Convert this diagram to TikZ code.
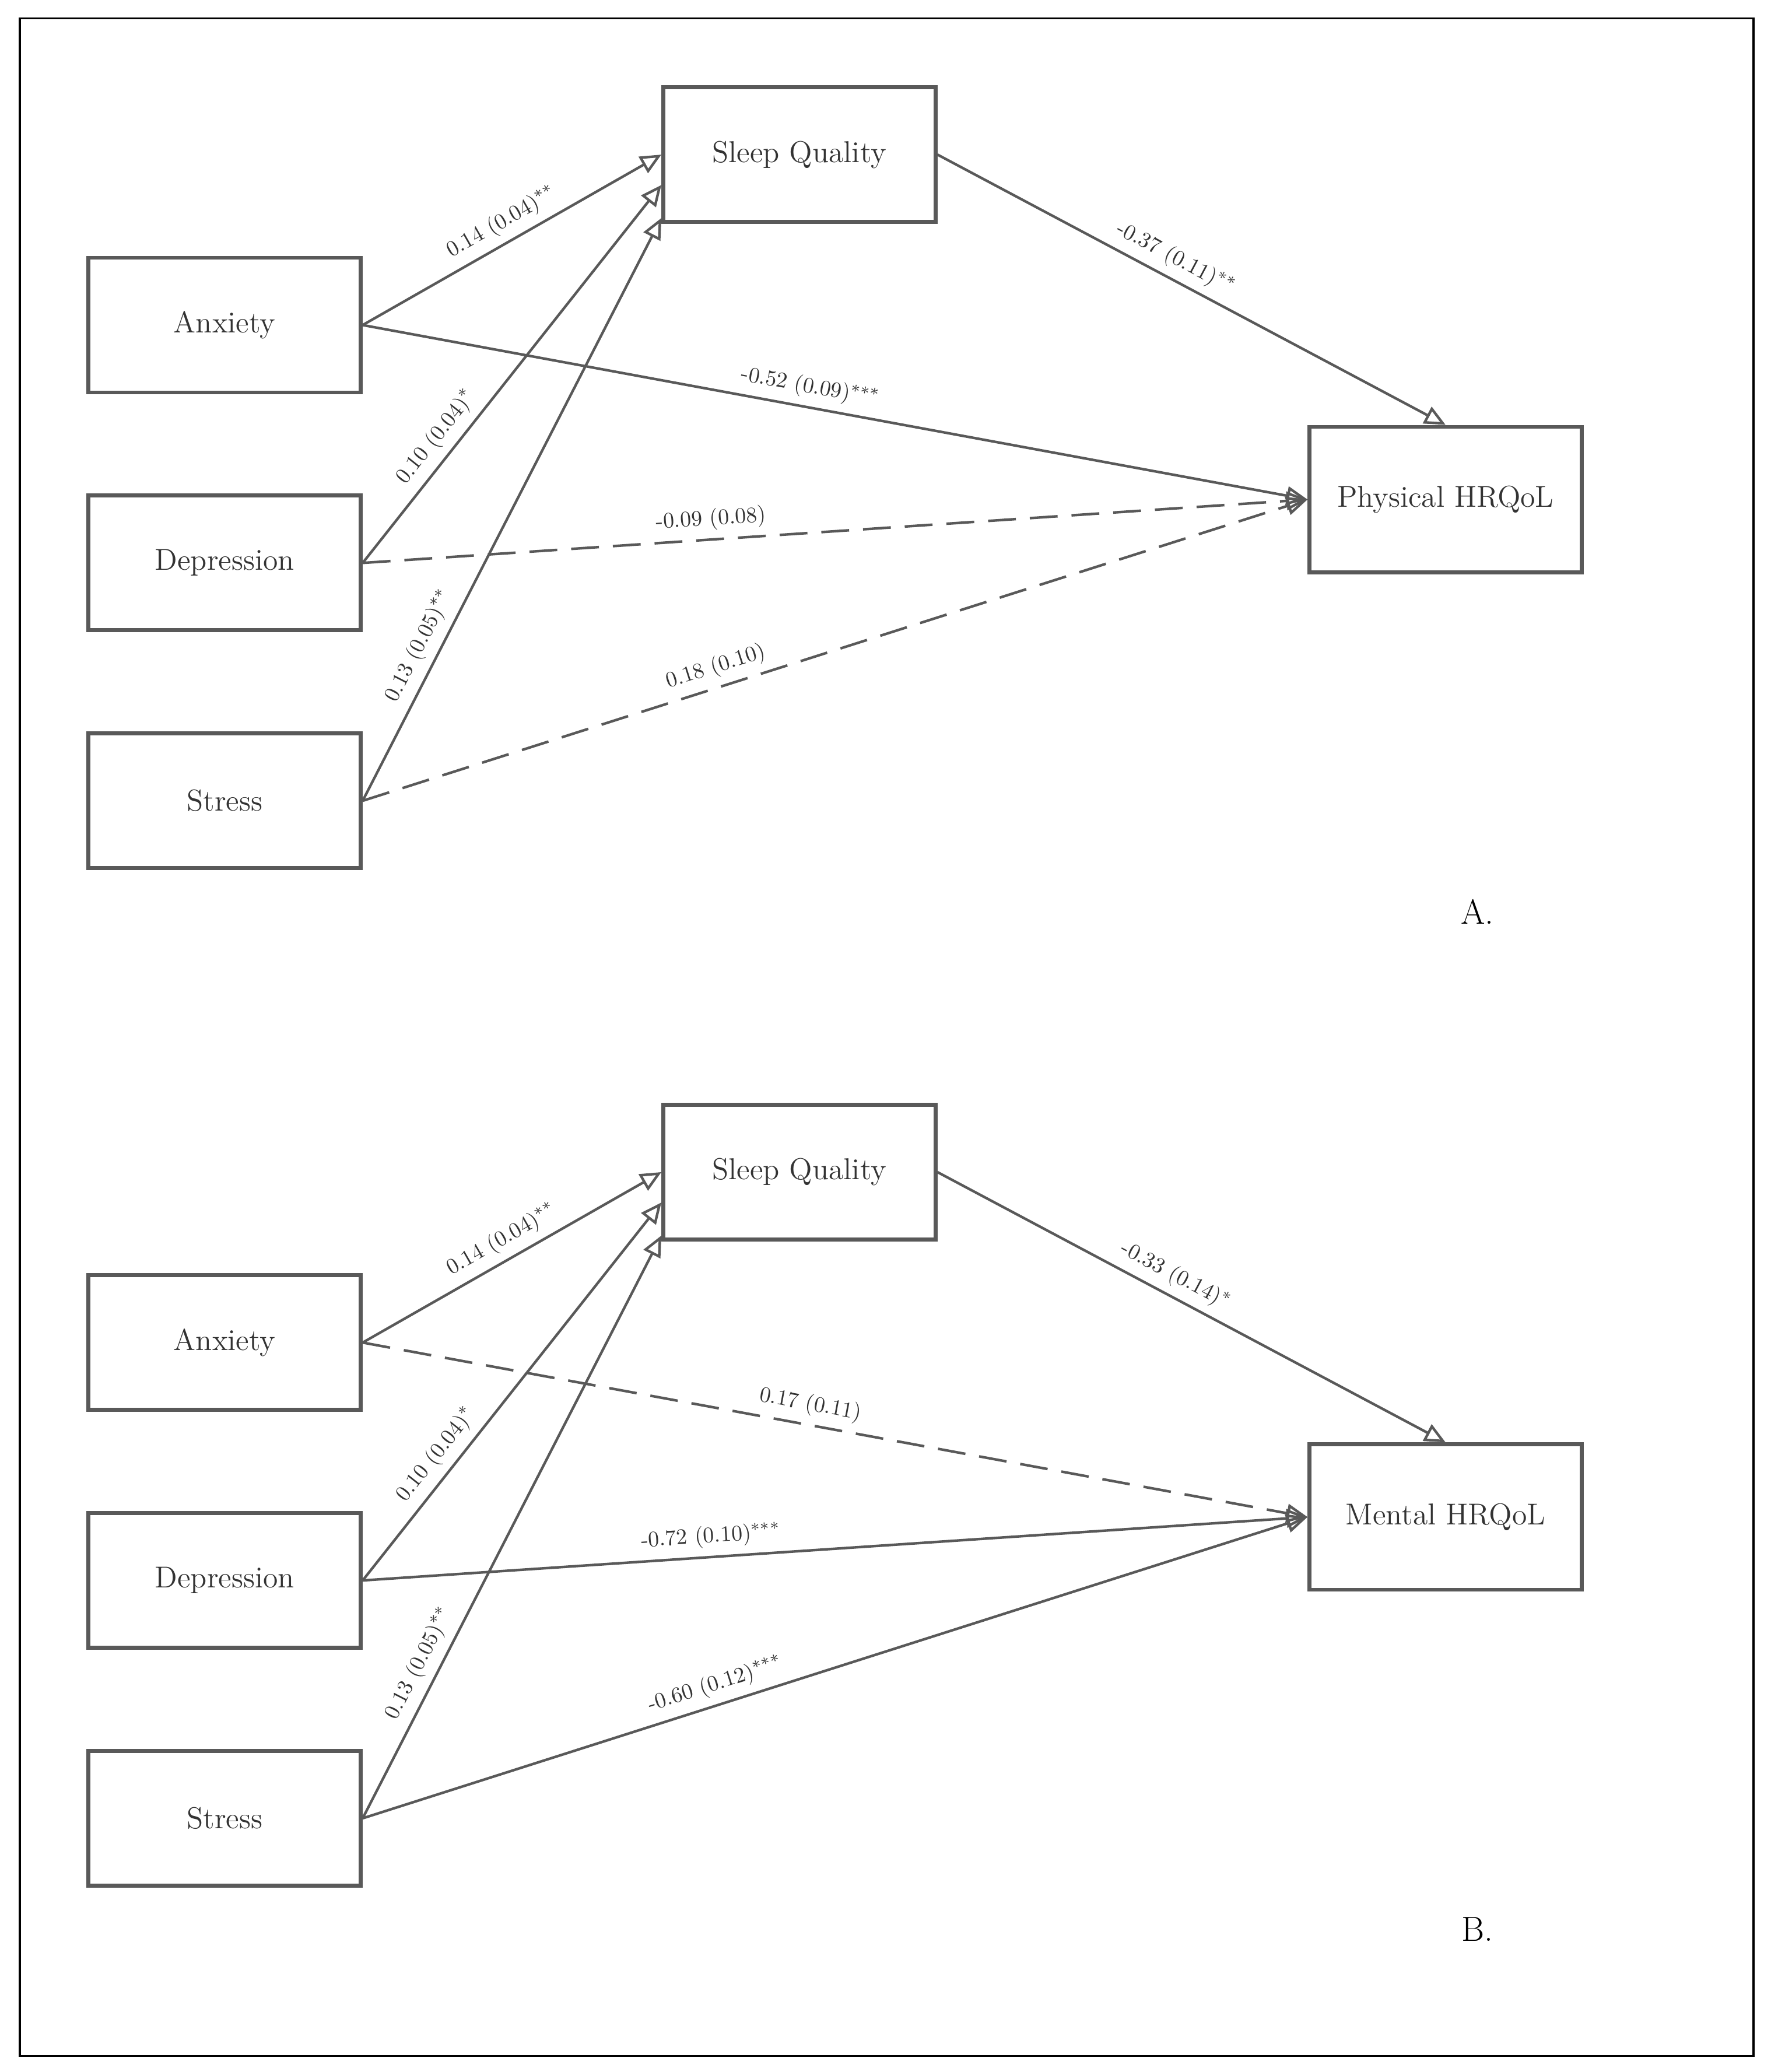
\documentclass[tikz,border=0pt]{standalone}
\usetikzlibrary{arrows.meta}
\begin{document}
\begin{tikzpicture}[x=0.02cm,y=-0.02cm,
	box/.style={draw=black!65, line width=1.7pt, minimum width=4.12cm, minimum height=2.04cm, font=\fontsize{13}{15}\selectfont, text=black!80},
	outbox/.style={box, minimum height=2.2cm},
	path/.style={draw=black!65, line width=1.1pt, -{Triangle[open,length=9pt,width=8pt]}},
	ns/.style={path, dash pattern=on 12pt off 6pt},
	coef/.style={sloped, above, font=\fontsize{9.5}{11}\selectfont, text=black!80}]
	\useasboundingbox[fill=white] (0,0) rectangle (1340,1568);
	\draw[line width=0.8pt] (15,14) rectangle (1327,1556);
	% Panel A
	\node[box] (sleepA) at (605,117) {Sleep Quality};
	\node[box] (anxA) at (170,246) {Anxiety};
	\node[box] (depA) at (170,426) {Depression};
	\node[box] (strA) at (170,606) {Stress};
	\node[outbox] (physA) at (1094,378) {Physical HRQoL};
	\node[font=\fontsize{15}{17}\selectfont] (labA) at (1118,690) {A.};
	\draw[path] (anxA.east) -- node[coef] {0.14 (0.04)$^{**}$} ([yshift=0cm]sleepA.west);
	\draw[path] (depA.east) -- node[coef, pos=0.3] {0.10 (0.04)$^{*}$} ([yshift=-0.46cm]sleepA.west);
	\draw[path] (strA.east) -- node[coef, pos=0.25] {0.13 (0.05)$^{**}$} ([yshift=-0.96cm]sleepA.west);
	\draw[path] (sleepA.east) -- node[coef, pos=0.45] {-0.37 (0.11)$^{**}$} (physA.north);
	\draw[path] (anxA.east) -- node[coef, pos=0.47] {-0.52 (0.09)$^{***}$} (physA.west);
	\draw[ns] (depA.east) -- node[coef, pos=0.37] {-0.09 (0.08)} (physA.west);
	\draw[ns] (strA.east) -- node[coef, pos=0.38] {0.18 (0.10)} (physA.west);
	% Panel B
	\node[box] (sleepB) at (605,887) {Sleep Quality};
	\node[box] (anxB) at (170,1016) {Anxiety};
	\node[box] (depB) at (170,1196) {Depression};
	\node[box] (strB) at (170,1376) {Stress};
	\node[outbox] (mentB) at (1094,1148) {Mental HRQoL};
	\node[font=\fontsize{15}{17}\selectfont] (labB) at (1118,1460) {B.};
	\draw[path] (anxB.east) -- node[coef] {0.14 (0.04)$^{**}$} (sleepB.west);
	\draw[path] (depB.east) -- node[coef, pos=0.3] {0.10 (0.04)$^{*}$} ([yshift=-0.46cm]sleepB.west);
	\draw[path] (strB.east) -- node[coef, pos=0.25] {0.13 (0.05)$^{**}$} ([yshift=-0.96cm]sleepB.west);
	\draw[path] (sleepB.east) -- node[coef, pos=0.45] {-0.33 (0.14)$^{*}$} (mentB.north);
	\draw[ns] (anxB.east) -- node[coef, pos=0.47] {0.17 (0.11)} (mentB.west);
	\draw[path] (depB.east) -- node[coef, pos=0.37] {-0.72 (0.10)$^{***}$} (mentB.west);
	\draw[path] (strB.east) -- node[coef, pos=0.38] {-0.60 (0.12)$^{***}$} (mentB.west);
\end{tikzpicture}
\end{document}
